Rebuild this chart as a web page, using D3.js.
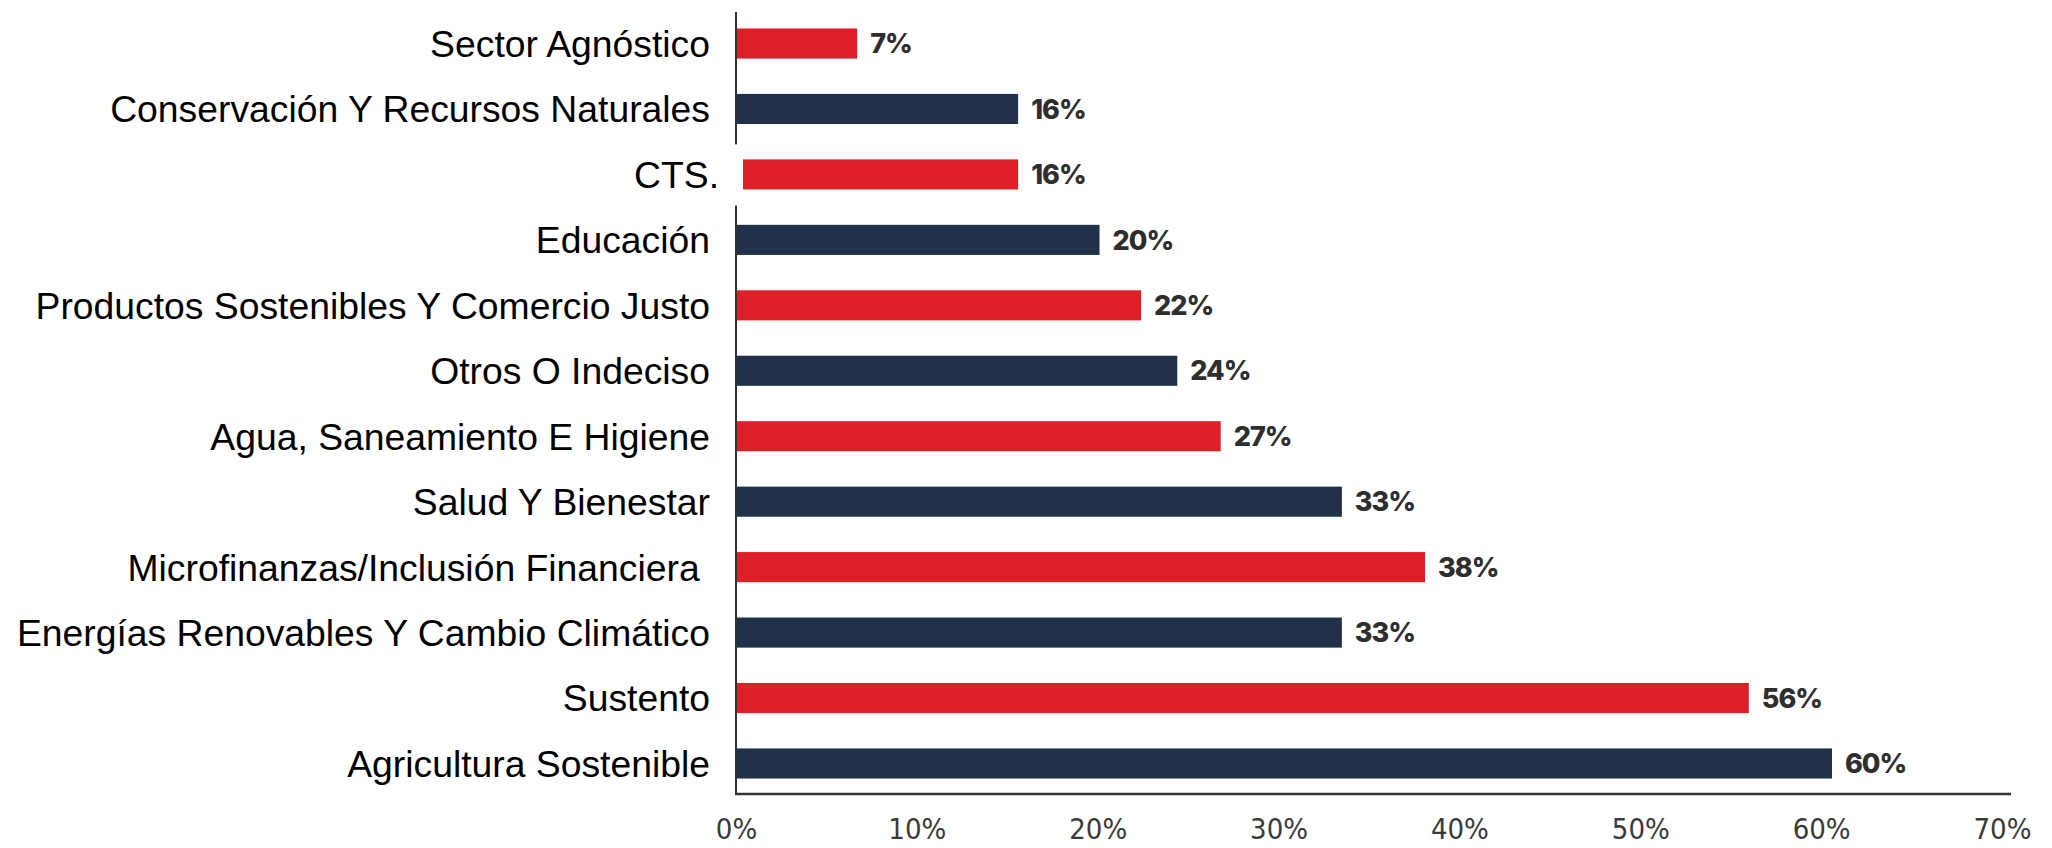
<!DOCTYPE html>
<html>
<head>
<meta charset="utf-8">
<script src="https://cdn.jsdelivr.net/npm/d3@7"></script>
<style>
  body { margin: 0; background: #fff; }
  svg { display: block; }
</style>
</head>
<body>
<div id="chart"></div>
<script>
const categories = [
  "Sector Agnóstico",
  "Conservación Y Recursos Naturales",
  "CTS.",
  "Educación",
  "Productos Sostenibles Y Comercio Justo",
  "Otros O Indeciso",
  "Agua, Saneamiento E Higiene",
  "Salud Y Bienestar",
  "Microfinanzas/Inclusión Financiera ",
  "Energías Renovables Y Cambio Climático",
  "Sustento",
  "Agricultura Sostenible"
];
// bar lengths as drawn in the picture, and the labels printed next to them
const values = [6.7, 15.6, 15.6, 20.1, 22.4, 24.4, 26.8, 33.5, 38.1, 33.5, 56.0, 60.6];
const valueLabels = ["7%", "16%", "16%", "20%", "22%", "24%", "27%", "33%", "38%", "33%", "56%", "60%"];
const xTicks = [0, 10, 20, 30, 40, 50, 60, 70];

const width = 2052, height = 848;
const red = "#de1f27", navy = "#22314a";

const svg = d3.select("#chart")
  .append("svg")
  .attr("width", width)
  .attr("height", height);

const x = d3.scaleLinear()
  .domain([0, 70])
  .range([736, 2002]);

const y = d3.scaleBand()
  .domain(categories)
  .range([10.8, 796.2])
  .paddingInner(0.54)
  .paddingOuter(0.27);

const data = categories.map((c, i) => ({ cat: c, val: values[i], label: valueLabels[i], i: i }));

// bars
svg.selectAll(".bar")
  .data(data)
  .enter().append("rect")
  .attr("class", "bar")
  .attr("x", x(0))
  .attr("y", d => y(d.cat))
  .attr("width", d => x(d.val) - x(0))
  .attr("height", y.bandwidth())
  .attr("fill", d => d.i % 2 === 0 ? red : navy);

// vertical axis line
svg.append("line")
  .attr("x1", x(0)).attr("x2", x(0))
  .attr("y1", 12).attr("y2", 795)
  .attr("stroke", "#333")
  .attr("stroke-width", 2);

// white patch behind the CTS. label (as in the source image)
const cts = "CTS.";
svg.append("rect")
  .attr("x", 560)
  .attr("y", y(cts) - 15)
  .attr("width", x(0) + 7 - 560)
  .attr("height", y.bandwidth() + 31)
  .attr("fill", "#fff");

// bottom axis line
svg.append("line")
  .attr("x1", x(0) - 1).attr("x2", 2011)
  .attr("y1", 794).attr("y2", 794)
  .attr("stroke", "#333")
  .attr("stroke-width", 2.5);

// category labels
svg.selectAll(".cat")
  .data(data)
  .enter().append("text")
  .attr("class", "cat")
  .attr("x", d => x(0) - 26 + (d.cat === cts ? 9 : 0))
  .attr("y", d => y(d.cat) + y.bandwidth() / 2)
  .attr("dy", "0.36em")
  .attr("text-anchor", "end")
  .style("white-space", "pre")
  .style("font-family", "'Liberation Sans', Arial, sans-serif")
  .style("font-size", "37.3px")
  .attr("fill", "#000")
  .text(d => d.cat);

// value labels
svg.selectAll(".val")
  .data(data)
  .enter().append("text")
  .attr("class", "val")
  .attr("x", d => x(d.val) + 13)
  .attr("y", d => y(d.cat) + y.bandwidth() / 2)
  .attr("dy", "0.36em")
  .style("font-family", "Inter, 'Open Sans', sans-serif")
  .style("font-weight", "800")
  .style("font-size", "27px")
  .style("letter-spacing", "-1px")
  .attr("fill", "#2e2e2e")
  .text(d => d.label);

// x axis tick labels
const xAxis = d3.axisBottom(x)
  .tickValues(xTicks)
  .tickSize(0)
  .tickPadding(0)
  .tickFormat(d => d + "%");

const gx = svg.append("g")
  .attr("transform", "translate(0,818)")
  .call(xAxis);
gx.select(".domain").remove();
gx.selectAll("text")
  .style("font-family", "'Liberation Sans Narrow', 'DejaVu Sans Condensed', sans-serif")
  .style("font-size", "29px")
  .attr("fill", "#3a3a3a");
</script>
</body>
</html>
